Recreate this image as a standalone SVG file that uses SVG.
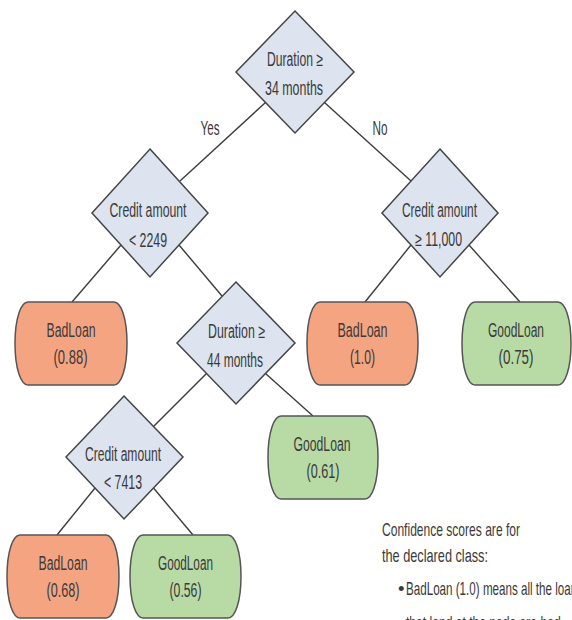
<svg xmlns="http://www.w3.org/2000/svg" width="572" height="620" viewBox="0 0 572 620">
<style>
text{font-family:"Liberation Sans Narrow","Liberation Sans",Arial,sans-serif;font-size:19.5px;fill:#3a3a3a;text-anchor:middle}
.note{text-anchor:start;font-size:18.5px}
.dia{fill:#dde3ef;stroke:#454545;stroke-width:1.5}
.bad{fill:#f5a482;stroke:#555;stroke-width:1.5}
.good{fill:#b8dba6;stroke:#555;stroke-width:1.5}
.conn line{stroke:#3c3c3c;stroke-width:1.4}
</style>
<rect width="572" height="620" fill="#fff"/>
<g class="conn" id="connectors">
<line x1="265.5" y1="102.5" x2="180" y2="181"/>
<line x1="324.5" y1="102.5" x2="411" y2="181"/>
<line x1="121" y1="245" x2="72" y2="302"/>
<line x1="179" y1="245" x2="222" y2="296"/>
<line x1="411" y1="245" x2="365" y2="302"/>
<line x1="469" y1="245" x2="520" y2="302"/>
<line x1="206.5" y1="373.5" x2="153.5" y2="426.5"/>
<line x1="265.5" y1="373.5" x2="313" y2="416"/>
<line x1="95" y1="488" x2="57" y2="535"/>
<line x1="153.5" y1="488" x2="193" y2="535"/>
<text x="210" y="135" textLength="19" lengthAdjust="spacingAndGlyphs">Yes</text>
<text x="380" y="135" textLength="15" lengthAdjust="spacingAndGlyphs">No</text>
</g>
<g id="n_duration34">
<polygon class="dia" points="295,11 354,72 295,133 236,72"/>
<text x="295" y="66" textLength="56" lengthAdjust="spacingAndGlyphs">Duration ≥</text>
<text x="294" y="95" textLength="58" lengthAdjust="spacingAndGlyphs">34 months</text>
</g>
<g id="n_credit2249">
<polygon class="dia" points="150,149 208,213 150,277 92,213"/>
<text x="148" y="217" textLength="77" lengthAdjust="spacingAndGlyphs">Credit amount</text>
<text x="148" y="247" textLength="38" lengthAdjust="spacingAndGlyphs">&lt; 2249</text>
</g>
<g id="n_credit11000">
<polygon class="dia" points="440,149 498,213 440,277 382,213"/>
<text x="439.5" y="217" textLength="75" lengthAdjust="spacingAndGlyphs">Credit amount</text>
<text x="438.5" y="246" textLength="47" lengthAdjust="spacingAndGlyphs">≥ 11,000</text>
</g>
<g id="n_duration44">
<polygon class="dia" points="236,282 295,343 236,404 177,343"/>
<text x="236.5" y="338" textLength="57" lengthAdjust="spacingAndGlyphs">Duration ≥</text>
<text x="235" y="367" textLength="56" lengthAdjust="spacingAndGlyphs">44 months</text>
</g>
<g id="n_credit7413">
<polygon class="dia" points="124,396 183,457 124,519 66,457"/>
<text x="123" y="461" textLength="76" lengthAdjust="spacingAndGlyphs">Credit amount</text>
<text x="123" y="489" textLength="38" lengthAdjust="spacingAndGlyphs">&lt; 7413</text>
</g>
<g id="n_bad088">
<path class="bad" d="M28,302 H114 C121,302 127,318 127,343.5 C127,369 121,385 114,385 H28 C21,385 15,369 15,343.5 C15,318 21,302 28,302 Z"/>
<text x="71" y="337" textLength="49" lengthAdjust="spacingAndGlyphs">BadLoan</text>
<text x="70.5" y="364" textLength="34" lengthAdjust="spacingAndGlyphs">(0.88)</text>
</g>
<g id="n_bad10">
<path class="bad" d="M320,302 H405 C412,302 418,318 418,343.5 C418,369 412,385 405,385 H320 C313,385 307,369 307,343.5 C307,318 313,302 320,302 Z"/>
<text x="362.5" y="337" textLength="50" lengthAdjust="spacingAndGlyphs">BadLoan</text>
<text x="362.5" y="364" textLength="25" lengthAdjust="spacingAndGlyphs">(1.0)</text>
</g>
<g id="n_good075">
<path class="good" d="M475,302 H558 C565,302 571,318 571,343.5 C571,369 565,385 558,385 H475 C468,385 462,369 462,343.5 C462,318 468,302 475,302 Z"/>
<text x="516" y="337" textLength="56" lengthAdjust="spacingAndGlyphs">GoodLoan</text>
<text x="516" y="364" textLength="35" lengthAdjust="spacingAndGlyphs">(0.75)</text>
</g>
<g id="n_good061">
<path class="good" d="M281,416 H365 C372,416 378,432 378,457.5 C378,483 372,499 365,499 H281 C274,499 268,483 268,457.5 C268,432 274,416 281,416 Z"/>
<text x="322" y="451" textLength="57" lengthAdjust="spacingAndGlyphs">GoodLoan</text>
<text x="323" y="478" textLength="33" lengthAdjust="spacingAndGlyphs">(0.61)</text>
</g>
<g id="n_bad068">
<path class="bad" d="M20,535 H106 C113,535 119,551 119,576.5 C119,602 113,618 106,618 H20 C13,618 7,602 7,576.5 C7,551 13,535 20,535 Z"/>
<text x="63" y="570" textLength="49" lengthAdjust="spacingAndGlyphs">BadLoan</text>
<text x="63" y="597" textLength="33" lengthAdjust="spacingAndGlyphs">(0.68)</text>
</g>
<g id="n_good056">
<path class="good" d="M143,535 H228 C235,535 241,551 241,576.5 C241,602 235,618 228,618 H143 C136,618 130,602 130,576.5 C130,551 136,535 143,535 Z"/>
<text x="185.5" y="570" textLength="55" lengthAdjust="spacingAndGlyphs">GoodLoan</text>
<text x="185.5" y="597" textLength="32" lengthAdjust="spacingAndGlyphs">(0.56)</text>
</g>
<g id="notes">
<text class="note" x="382" y="536" textLength="138" lengthAdjust="spacingAndGlyphs">Confidence scores are for</text>
<text class="note" x="382" y="562" textLength="106" lengthAdjust="spacingAndGlyphs">the declared class:</text>
<text class="note" x="398" y="595">•</text>
<text class="note" x="406" y="595" textLength="177" lengthAdjust="spacingAndGlyphs">BadLoan (1.0) means all the loans</text>
<text class="note" x="406" y="629" textLength="158" lengthAdjust="spacingAndGlyphs">that land at the node are bad.</text>
</g>
</svg>
